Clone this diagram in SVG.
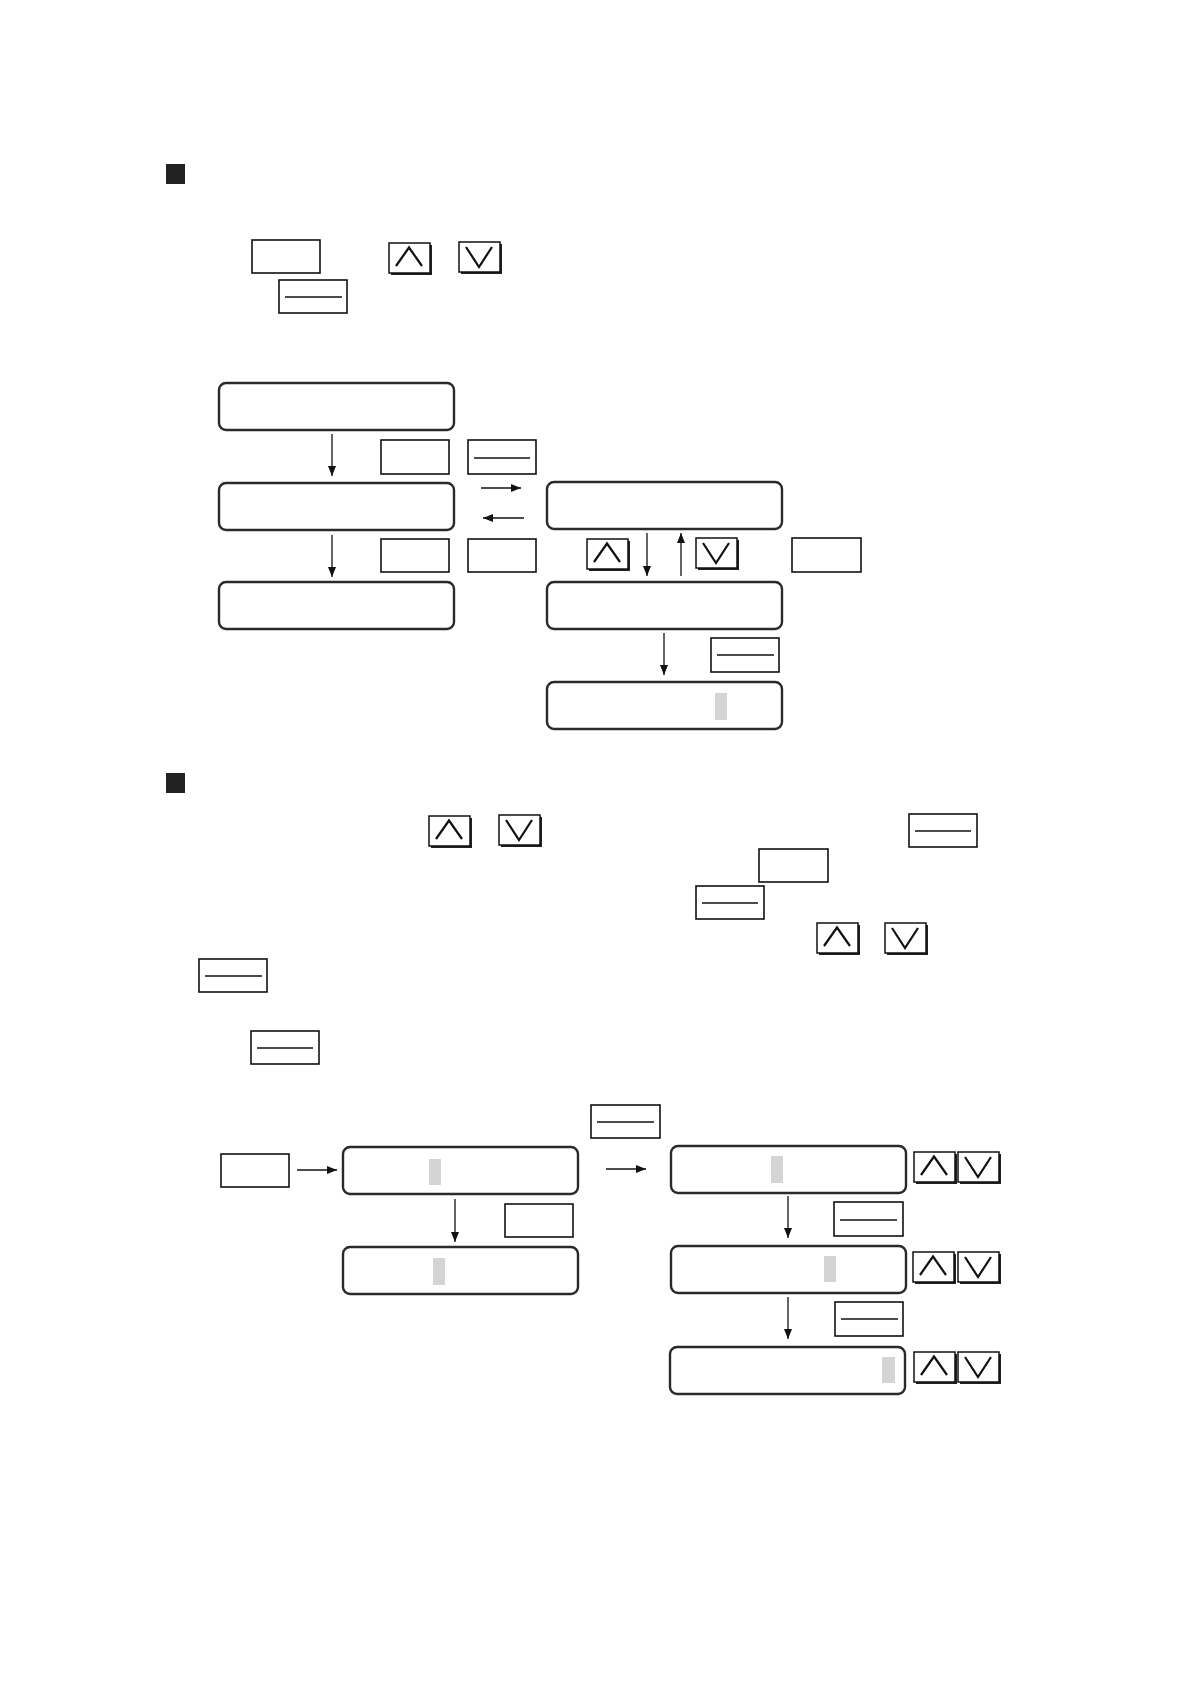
<svg xmlns="http://www.w3.org/2000/svg" width="1190" height="1684" viewBox="0 0 1190 1684">
<style>
.node{fill:#fff;stroke:#2a2a2a;stroke-width:2.4}
.key{fill:#fff;stroke:#111;stroke-width:1.6}
.kl{stroke:#111;stroke-width:1.5}
.btn{fill:#fff;stroke:#111;stroke-width:1.5}
.sh{fill:#222}
.car{fill:none;stroke:#111;stroke-width:2.2}
.bar{fill:#d4d4d4}
.con{stroke:#111;stroke-width:1.3;fill:none}
.sq{fill:#222}
</style>
<defs>
<marker id="ah" markerUnits="userSpaceOnUse" markerWidth="10" markerHeight="8" refX="10" refY="4" orient="auto">
<path d="M0,0 L10,4 L0,8 Z" fill="#111"/>
</marker>
<g id="up"><rect class="sh" x="2" y="2" width="41" height="30"/><rect class="btn" x="0" y="0" width="41" height="30"/><path class="car" d="M7,23 L20,4.5 L33,23"/></g>
<g id="dn"><rect class="sh" x="2" y="2" width="41" height="30"/><rect class="btn" x="0" y="0" width="41" height="30"/><path class="car" d="M7,5 L20,25 L33,5"/></g>
</defs>
<rect width="1190" height="1684" fill="#fff"/>

<!-- Section 1 -->
<rect class="sq" x="166" y="164" width="19" height="20"/>
<g id="s1-key-a"><rect class="key" x="252" y="240" width="68" height="33"/></g>
<g id="s1-key-b"><rect class="key" x="279" y="280" width="68" height="33"/><line class="kl" x1="285" y1="297" x2="342" y2="297"/></g>
<g id="s1-up"><use href="#up" x="389" y="243"/></g>
<g id="s1-dn"><use href="#dn" x="459" y="242"/></g>

<g id="nodeA"><rect class="node" x="219" y="383" width="235" height="47" rx="7"/></g>
<g id="nodeB"><rect class="node" x="219" y="483" width="235" height="47" rx="7"/></g>
<g id="nodeB2"><rect class="node" x="219" y="582" width="235" height="47" rx="7"/></g>
<g id="nodeC"><rect class="node" x="547" y="482" width="235" height="47" rx="7"/></g>
<g id="nodeD"><rect class="node" x="547" y="582" width="235" height="47" rx="7"/></g>
<g id="nodeE"><rect class="node" x="547" y="682" width="235" height="47" rx="7"/><rect class="bar" x="715" y="693" width="12" height="27"/></g>

<g id="k1"><rect class="key" x="381" y="440" width="68" height="34"/></g>
<g id="k2"><rect class="key" x="468" y="440" width="68" height="34"/><line class="kl" x1="474" y1="458" x2="530" y2="458"/></g>
<g id="k3"><rect class="key" x="381" y="539" width="68" height="33"/></g>
<g id="k4"><rect class="key" x="468" y="539" width="68" height="33"/></g>
<g id="k5"><rect class="key" x="792" y="538" width="69" height="34"/></g>
<g id="k6"><rect class="key" x="711" y="638" width="68" height="34"/><line class="kl" x1="717" y1="655" x2="774" y2="655"/></g>
<g id="b-up1"><use href="#up" x="587" y="539"/></g>
<g id="b-dn1"><use href="#dn" x="696" y="538"/></g>

<!-- Section 2 -->
<rect class="sq" x="166" y="773" width="19" height="20"/>
<g id="s2-up"><use href="#up" x="429" y="816"/></g>
<g id="s2-dn"><use href="#dn" x="499" y="815"/></g>
<g id="s2-key1"><rect class="key" x="909" y="814" width="68" height="33"/><line class="kl" x1="915" y1="831" x2="971" y2="831"/></g>
<g id="s2-key2"><rect class="key" x="759" y="849" width="69" height="33"/></g>
<g id="s2-key3"><rect class="key" x="696" y="886" width="68" height="33"/><line class="kl" x1="702" y1="903" x2="758" y2="903"/></g>
<g id="s2-up2"><use href="#up" x="817" y="923"/></g>
<g id="s2-dn2"><use href="#dn" x="885" y="923"/></g>
<g id="s2-key4"><rect class="key" x="199" y="959" width="68" height="33"/><line class="kl" x1="205" y1="976" x2="262" y2="976"/></g>
<g id="s2-key5"><rect class="key" x="251" y="1031" width="68" height="33"/><line class="kl" x1="257" y1="1048" x2="313" y2="1048"/></g>

<g id="key-start"><rect class="key" x="221" y="1154" width="68" height="33"/></g>
<g id="key-top"><rect class="key" x="591" y="1105" width="69" height="33"/><line class="kl" x1="597" y1="1122" x2="654" y2="1122"/></g>
<g id="nodeF"><rect class="node" x="343" y="1147" width="235" height="47" rx="7"/><rect class="bar" x="429" y="1159" width="12" height="26"/></g>
<g id="nodeG"><rect class="node" x="343" y="1247" width="235" height="47" rx="7"/><rect class="bar" x="433" y="1258" width="12" height="27"/></g>
<g id="key-fg"><rect class="key" x="505" y="1204" width="68" height="33"/></g>
<g id="nodeH"><rect class="node" x="671" y="1146" width="235" height="47" rx="7"/><rect class="bar" x="771" y="1156" width="12" height="27"/></g>
<g id="nodeI"><rect class="node" x="671" y="1246" width="235" height="47" rx="7"/><rect class="bar" x="824" y="1256" width="12" height="26"/></g>
<g id="nodeJ"><rect class="node" x="670" y="1347" width="235" height="47" rx="7"/><rect class="bar" x="882" y="1357" width="13" height="26"/></g>
<g id="key-hi"><rect class="key" x="834" y="1202" width="69" height="34"/><line class="kl" x1="840" y1="1220" x2="897" y2="1220"/></g>
<g id="key-ij"><rect class="key" x="835" y="1302" width="68" height="34"/><line class="kl" x1="841" y1="1319" x2="898" y2="1319"/></g>
<g id="btnH"><use href="#up" x="914" y="1152"/><use href="#dn" x="958" y="1152"/></g>
<g id="btnI"><use href="#up" x="913" y="1252"/><use href="#dn" x="958" y="1252"/></g>
<g id="btnJ"><use href="#up" x="914" y="1352"/><use href="#dn" x="958" y="1352"/></g>

<g id="connectors">
<line class="con" x1="332" y1="434" x2="332" y2="476" marker-end="url(#ah)"/>
<line class="con" x1="332" y1="535" x2="332" y2="577" marker-end="url(#ah)"/>
<line class="con" x1="481" y1="488" x2="521" y2="488" marker-end="url(#ah)"/>
<line class="con" x1="524" y1="518" x2="483" y2="518" marker-end="url(#ah)"/>
<line class="con" x1="647" y1="533" x2="647" y2="576" marker-end="url(#ah)"/>
<line class="con" x1="681" y1="576" x2="681" y2="533" marker-end="url(#ah)"/>
<line class="con" x1="664" y1="633" x2="664" y2="675" marker-end="url(#ah)"/>
<line class="con" x1="297" y1="1170" x2="337" y2="1170" marker-end="url(#ah)"/>
<line class="con" x1="455" y1="1199" x2="455" y2="1242" marker-end="url(#ah)"/>
<line class="con" x1="606" y1="1169" x2="646" y2="1169" marker-end="url(#ah)"/>
<line class="con" x1="788" y1="1196" x2="788" y2="1238" marker-end="url(#ah)"/>
<line class="con" x1="788" y1="1297" x2="788" y2="1339" marker-end="url(#ah)"/>
</g>
</svg>
